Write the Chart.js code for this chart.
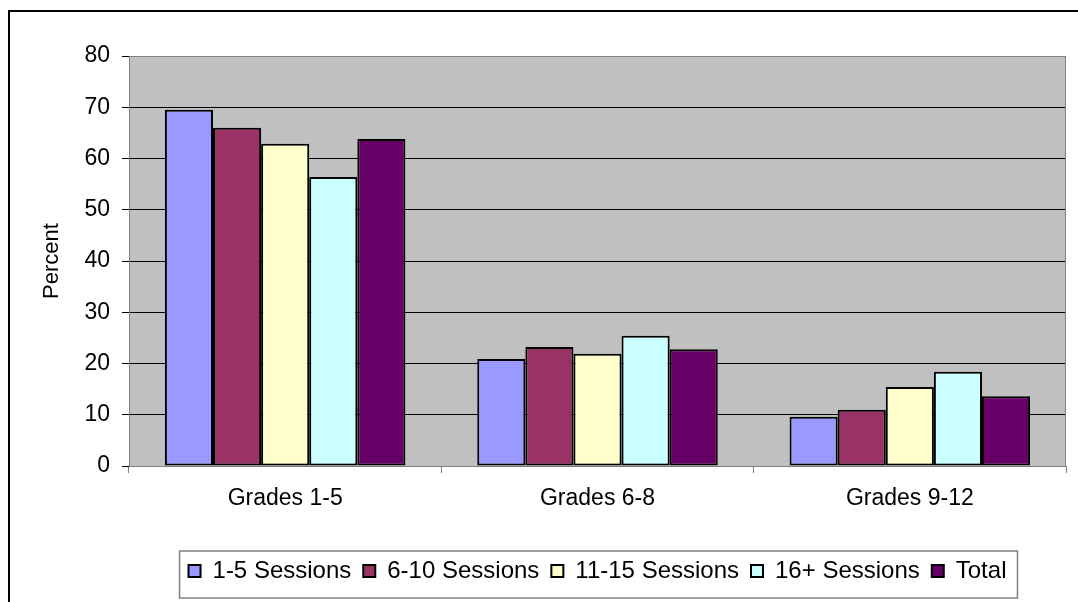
<!DOCTYPE html>
<html>
<head>
<meta charset="utf-8">
<title>Percent by grade and sessions</title>
<script src="https://cdn.jsdelivr.net/npm/chart.js@4.4.1/dist/chart.umd.min.js"></script>
<style>
    html, body { margin: 0; padding: 0; background: #fff; }
    #sessionsChart { display: block; }
</style>
</head>
<body>
<canvas id="sessionsChart" width="1078" height="602"></canvas>
<script>
// Data
const categories = ['Grades 1-5', 'Grades 6-8', 'Grades 9-12'];
const seriesLabels = ['1-5 Sessions', '6-10 Sessions', '11-15 Sessions', '16+ Sessions', 'Total'];
const sessions1to5 = [69.5, 20.9, 9.6];
const sessions6to10 = [66.0, 23.2, 11.0];
const sessions11to15 = [62.9, 21.9, 15.4];
const sessions16plus = [56.4, 25.4, 18.4];
const totalValues = [63.8, 22.8, 13.6];
const yTicks = [0, 10, 20, 30, 40, 50, 60, 70, 80];

const seriesValues = [sessions1to5, sessions6to10, sessions11to15, sessions16plus, totalValues];
const seriesColors = ['#9999FF', '#993366', '#FFFFCC', '#CCFFFF', '#660066'];

const FONT = '"Liberation Sans", Arial, sans-serif';

// Background, outer frame, grey plot area
const backgroundPlugin = {
    id: 'excelBackground',
    beforeDraw(chart) {
        const { ctx, chartArea } = chart;
        ctx.save();
        ctx.fillStyle = '#ffffff';
        ctx.fillRect(0, 0, chart.width, chart.height);
        ctx.strokeStyle = '#000000';
        ctx.lineWidth = 2;
        ctx.strokeRect(9, 11, chart.width + 50, chart.height + 50);
        ctx.fillStyle = '#C0C0C0';
        ctx.fillRect(chartArea.left, chartArea.top, chartArea.right - chartArea.left, chartArea.bottom - chartArea.top);
        ctx.restore();
    },
    beforeDatasetsDraw(chart) {
        // plot area border goes over the grid lines
        const { ctx, chartArea } = chart;
        ctx.save();
        ctx.strokeStyle = '#808080';
        ctx.lineWidth = 1;
        ctx.strokeRect(Math.round(chartArea.left) + 0.5, Math.round(chartArea.top) + 0.5,
            Math.round(chartArea.right - chartArea.left) - 1, Math.round(chartArea.bottom - chartArea.top));
        ctx.restore();
    },
    afterDraw(chart) {
        // box round the legend
        const legend = chart.legend;
        if (!legend || !legend.legendHitBoxes.length) return;
        const boxes = legend.legendHitBoxes;
        const first = boxes[0];
        const last = boxes[boxes.length - 1];
        const midY = first.top + first.height / 2;
        const { ctx } = chart;
        ctx.save();
        ctx.strokeStyle = '#808080';
        ctx.lineWidth = 1.5;
        const left = first.left - 9;
        const right = last.left + last.width + 11;
        ctx.strokeRect(left, midY - 20, right - left, 47);
        ctx.restore();
    }
};

function initChart() {
    const ctx = document.getElementById('sessionsChart');
    if (typeof Chart === 'undefined') {
        console.warn('Chart.js not loaded');
        return;
    }

    Chart.defaults.color = '#000000';
    Chart.defaults.font.family = FONT;

    const datasets = seriesLabels.map((label, i) => ({
        label: label,
        data: seriesValues[i],
        backgroundColor: seriesColors[i],
        borderColor: '#000000',
        borderWidth: 2,
        borderSkipped: false,
        categoryPercentage: 0.77,
        barPercentage: 1.0
    }));

    new Chart(ctx, {
        type: 'bar',
        data: {
            labels: categories,
            datasets: datasets
        },
        options: {
            responsive: false,
            animation: false,
            layout: {
                padding: { left: 30, right: 12, top: 56, bottom: 9 }
            },
            plugins: {
                legend: {
                    position: 'bottom',
                    fullSize: false,
                    labels: {
                        boxWidth: 12,
                        boxHeight: 12,
                        padding: 12,
                        color: '#000000',
                        font: { size: 24, family: FONT }
                    }
                },
                tooltip: { enabled: false }
            },
            scales: {
                x: {
                    grid: {
                        offset: true,
                        drawOnChartArea: false,
                        drawTicks: true,
                        tickLength: 7,
                        color: '#808080'
                    },
                    border: { color: '#808080', width: 1 },
                    ticks: {
                        padding: 12,
                        font: { size: 23, family: FONT },
                        maxRotation: 0
                    },
                    afterFit(scale) {
                        scale.height = 81;
                    }
                },
                y: {
                    min: 0,
                    max: 80,
                    afterBuildTicks(scale) {
                        scale.ticks = yTicks.map(v => ({ value: v }));
                    },
                    grid: {
                        color: '#000000',
                        lineWidth: 1,
                        tickLength: 7
                    },
                    border: { color: '#808080', width: 1 },
                    ticks: {
                        padding: 12,
                        font: { size: 23, family: FONT }
                    },
                    title: {
                        display: true,
                        text: 'Percent',
                        font: { size: 22, family: FONT },
                        padding: { top: 9, bottom: 0 }
                    },
                    afterFit(scale) {
                        scale.width = 99;
                    }
                }
            }
        },
        plugins: [backgroundPlugin]
    });
}

document.addEventListener('DOMContentLoaded', () => {
    initChart();
});
</script>
</body>
</html>
